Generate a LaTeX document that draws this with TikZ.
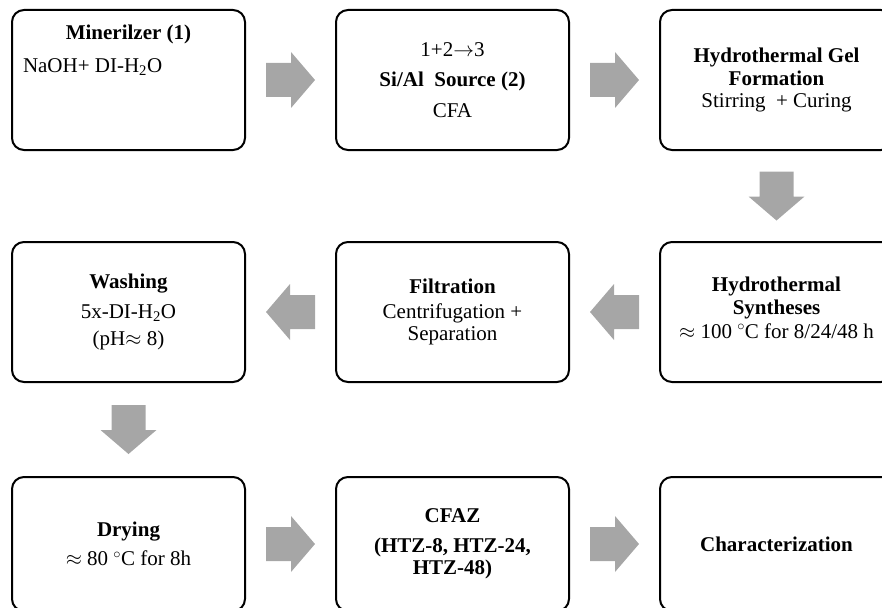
\documentclass[tikz,border=0pt]{standalone}
\usepackage{fontspec}
\setmainfont{Liberation Serif}
\usepackage{xcolor}
\usepackage{tikz}
\usetikzlibrary{positioning,calc}

\definecolor{flowgray}{RGB}{166,166,166}

\begin{document}
\begin{tikzpicture}[x=1pt,y=1pt,node distance=232pt and 324pt,on grid,
    stage/.style={draw,line width=2pt,rounded corners=12pt,minimum width=233pt,
      minimum height=140pt,inner sep=0pt,align=center,
      font=\fontsize{21}{22.5}\selectfont},
    fatarrow/.pic={\fill[flowgray] (-24.5,-17) -- (0.5,-17) -- (0.5,-28) -- (24.5,0)
      -- (0.5,28) -- (0.5,17) -- (-24.5,17) -- cycle;}]
  \clip (0,0) rectangle (882,-607);
  % first row
  \node[stage] (mnr) at (128.5,-80) {\parbox[c][120pt][t]{211pt}{\vspace*{5pt}%
    {\centering\textbf{Minerilzer (1)}\par}\vspace{10pt}NaOH+ DI-H\textsubscript{2}O}};
  \node[stage] (src) [right=of mnr] {1+2$\rightarrow$3\\[8pt]\textbf{Si/Al~ Source (2)}\\[8pt]CFA};
  \node[stage] (gel) [right=of src] {\textbf{Hydrothermal Gel}\\\textbf{Formation}\\Stirring~ + Curing};
  % second row
  \node[stage,font=\fontsize{21}{23.5}\selectfont] (syn) [below=of gel]
    {\textbf{Hydrothermal}\\\textbf{Syntheses}\\$\approx$ 100 $^{\circ}$C for 8/24/48 h\\[-14pt]\mbox{}};
  \node[stage] (flt) [left=of syn] {\textbf{Filtration}\\[2pt]Centrifugation +\\Separation};
  \node[stage] (wsh) [left=of flt] {\textbf{Washing}\\[7pt]5x-DI-H\textsubscript{2}O\\[5pt](pH$\approx$ 8)};
  % third row
  \node[stage,minimum height=134pt] (dry) [below=of wsh] {\textbf{Drying}\\[7pt]$\approx$ 80 $^{\circ}$C for 8h};
  \node[stage,minimum height=134pt] (cfaz) [right=of dry] {\textbf{CFAZ}\\[7pt]\textbf{(HTZ-8, HTZ-24,}\\\textbf{HTZ-48)}};
  \node[stage,minimum height=134pt] (chr) [right=of cfaz] {\textbf{Characterization}};
  % block arrows
  \pic at ($(mnr.east)!0.5!(src.west)$) {fatarrow};
  \pic at ($(src.east)!0.5!(gel.west)$) {fatarrow};
  \pic[rotate=-90] at ($(gel.south)!0.5!(syn.north)$) {fatarrow};
  \pic[rotate=180] at ($(syn.west)!0.5!(flt.east)$) {fatarrow};
  \pic[rotate=180] at ($(flt.west)!0.5!(wsh.east)$) {fatarrow};
  \pic[rotate=-90] at ($(wsh.south)!0.5!(dry.north)$) {fatarrow};
  \pic at ($(dry.east)!0.5!(cfaz.west)$) {fatarrow};
  \pic at ($(cfaz.east)!0.5!(chr.west)$) {fatarrow};
\end{tikzpicture}
\end{document}
